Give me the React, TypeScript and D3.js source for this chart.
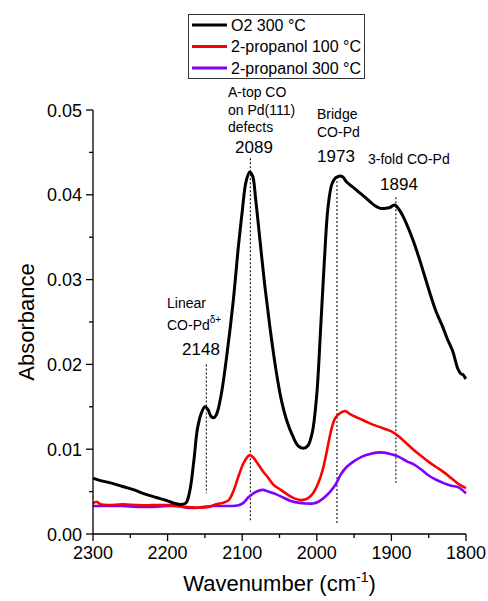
import React from "react";
import * as d3 from "d3";

const W = 488;
const H = 601;

const o2Wn = [2300,2290,2275,2260,2245,2230,2215,2200,2190,2180,2175,2170,2165,2160,2155,2150,2146,2142,2138,2134,2128,2120,2112,2105,2100,2095,2090,2086,2082,2076,2070,2063,2055,2048,2040,2032,2025,2018,2012,2006,2000,1995,1990,1985,1980,1975,1970,1965,1960,1953,1946,1938,1930,1922,1915,1908,1902,1896,1890,1884,1877,1870,1862,1855,1848,1840,1832,1825,1818,1811,1807,1804,1801,1800];
const o2Abs = [0.0066,0.0063,0.0060,0.0056,0.0052,0.0047,0.0043,0.0039,0.0036,0.0035,0.0037,0.0052,0.0085,0.0124,0.0142,0.0150,0.0147,0.0139,0.0137,0.0142,0.0165,0.0215,0.0275,0.0340,0.0380,0.0415,0.0427,0.0422,0.0395,0.0345,0.0295,0.0245,0.0195,0.0160,0.0133,0.0115,0.0104,0.0101,0.0104,0.0120,0.0165,0.0240,0.0320,0.0385,0.0412,0.0420,0.0422,0.0421,0.0415,0.0410,0.0405,0.0399,0.0393,0.0387,0.0384,0.0384,0.0385,0.0388,0.0383,0.0374,0.0360,0.0344,0.0323,0.0303,0.0283,0.0262,0.0246,0.0230,0.0216,0.0195,0.0189,0.0188,0.0184,0.0183];

const p100Wn = [2300,2295,2290,2280,2260,2240,2220,2200,2180,2160,2145,2135,2125,2118,2112,2105,2098,2090,2086,2080,2073,2065,2058,2050,2040,2030,2020,2012,2005,1998,1992,1986,1980,1975,1968,1962,1955,1945,1935,1925,1912,1900,1890,1880,1870,1860,1850,1840,1830,1820,1810,1800];
const p100Abs = [0.0036,0.0038,0.0035,0.0034,0.0035,0.0034,0.0034,0.0034,0.0032,0.0031,0.0032,0.0035,0.0037,0.0040,0.0050,0.0068,0.0084,0.0093,0.0091,0.0084,0.0075,0.0066,0.0058,0.0053,0.0047,0.0042,0.0040,0.0042,0.0048,0.0060,0.0076,0.0100,0.0125,0.0137,0.0143,0.0145,0.0141,0.0137,0.0133,0.0129,0.0125,0.0121,0.0115,0.0107,0.0099,0.0092,0.0085,0.0079,0.0073,0.0066,0.0059,0.0054];

const p300Wn = [2300,2280,2260,2240,2220,2200,2185,2175,2160,2140,2120,2105,2098,2092,2085,2078,2072,2065,2055,2045,2035,2025,2015,2005,1998,1990,1982,1975,1968,1960,1950,1940,1930,1920,1910,1900,1890,1880,1870,1860,1850,1840,1830,1820,1810,1805,1800];
const p300Abs = [0.0033,0.0033,0.0033,0.0032,0.0032,0.0033,0.0033,0.0031,0.0031,0.0033,0.0033,0.0034,0.0037,0.0043,0.0048,0.0051,0.0052,0.0050,0.0047,0.0043,0.0039,0.0037,0.0036,0.0036,0.0038,0.0043,0.0050,0.0058,0.0070,0.0079,0.0086,0.0091,0.0094,0.0096,0.0096,0.0094,0.0091,0.0086,0.0082,0.0076,0.0069,0.0064,0.0060,0.0057,0.0055,0.0052,0.0048];

const seriesNames = ["O2 300 °C", "2-propanol 100 °C", "2-propanol 300 °C"];
const seriesColors = ["#000000", "#ff0000", "#7f00ff"];

const xTicks = [2300, 2200, 2100, 2000, 1900, 1800];
const xMinorTicks = [2250, 2150, 2050, 1950, 1850];
const yTicks = [0.0, 0.01, 0.02, 0.03, 0.04, 0.05];
const yMinorTicks = [0.005, 0.015, 0.025, 0.035, 0.045];

// peak markers: wavenumber, top absorbance, bottom absorbance
const peakWn = [2148, 2089, 1973, 1894];
const peakTop = [0.0200, 0.0443, 0.0421, 0.0397];
const peakBottom = [0.0048, 0.0014, 0.0013, 0.0060];

const FONT = "Arial, 'Liberation Sans', sans-serif";

export default function App() {
  const x = d3.scaleLinear().domain([2300, 1800]).range([93, 466]);
  const y = d3.scaleLinear().domain([0, 0.05]).range([534, 110]);

  const line = d3
    .line<[number, number]>()
    .x((d) => x(d[0]))
    .y((d) => y(d[1]))
    .curve(d3.curveCatmullRom.alpha(0.5));

  const series = [
    { wn: o2Wn, abs: o2Abs, w: 3 },
    { wn: p100Wn, abs: p100Abs, w: 2.6 },
    { wn: p300Wn, abs: p300Abs, w: 2.6 },
  ];

  const x0 = x(2300);
  const y0 = y(0);

  return (
    <svg
      width={W}
      height={H}
      style={{ position: "absolute", left: 0, top: 0, background: "#fff" }}
      fontFamily={FONT}
    >
      <rect x={0} y={0} width={W} height={H} fill="#fff" />

      {/* peak dotted lines */}
      {peakWn.map((p, i) => (
        <line
          key={"pk" + i}
          x1={x(p)}
          x2={x(p)}
          y1={y(peakTop[i])}
          y2={y(peakBottom[i])}
          stroke="#222"
          strokeWidth={1.2}
          strokeDasharray="2,2"
        />
      ))}

      {/* series (draw purple, red, then black on top) */}
      {[2, 1, 0].map((i) => {
        const s = series[i];
        const pts: [number, number][] = s.wn.map((w, k) => [w, s.abs[k]]);
        return (
          <path
            key={"s" + i}
            d={line(pts) || ""}
            fill="none"
            stroke={seriesColors[i]}
            strokeWidth={s.w}
            strokeLinejoin="round"
          />
        );
      })}

      {/* axes */}
      <line x1={x0} x2={x0} y1={y(0.05)} y2={y0} stroke="#000" strokeWidth={1.3} />
      <line x1={x0} x2={x(1800)} y1={y0} y2={y0} stroke="#000" strokeWidth={1.3} />
      {xTicks.map((t) => (
        <g key={"xt" + t}>
          <line x1={x(t)} x2={x(t)} y1={y0} y2={y0 + 7} stroke="#000" strokeWidth={1.3} />
          <text x={x(t)} y={y0 + 25} textAnchor="middle" fontSize={18}>
            {t}
          </text>
        </g>
      ))}
      {xMinorTicks.map((t) => (
        <line key={"xm" + t} x1={x(t)} x2={x(t)} y1={y0} y2={y0 + 4} stroke="#000" strokeWidth={1.3} />
      ))}
      {yTicks.map((t) => (
        <g key={"yt" + t}>
          <line x1={x0 - 7} x2={x0} y1={y(t)} y2={y(t)} stroke="#000" strokeWidth={1.3} />
          <text x={x0 - 11} y={y(t) + 6.5} textAnchor="end" fontSize={18}>
            {t.toFixed(2)}
          </text>
        </g>
      ))}
      {yMinorTicks.map((t) => (
        <line key={"ym" + t} x1={x0 - 4} x2={x0} y1={y(t)} y2={y(t)} stroke="#000" strokeWidth={1.3} />
      ))}

      {/* axis titles */}
      <text
        transform={`translate(34,${(y(0) + y(0.05)) / 2}) rotate(-90)`}
        textAnchor="middle"
        fontSize={22}
      >
        Absorbance
      </text>
      <text x={(x0 + x(1800)) / 2} y={591} textAnchor="middle" fontSize={22}>
        Wavenumber (cm
        <tspan dy={-9} fontSize={14}>-1</tspan>
        <tspan dy={9}>)</tspan>
      </text>

      {/* annotations */}
      <g fontSize={14}>
        <text x={167} y={308}>Linear</text>
        <text x={167} y={330}>
          CO-Pd
          <tspan dy={-7} fontSize={10}>δ+</tspan>
        </text>
        <text x={228} y={97}>A-top CO</text>
        <text x={228} y={115}>on Pd(111)</text>
        <text x={228} y={132}>defects</text>
        <text x={317} y={119}>Bridge</text>
        <text x={317} y={137}>CO-Pd</text>
        <text x={368} y={164}>3-fold CO-Pd</text>
      </g>
      <g fontSize={17} textAnchor="middle">
        <text x={201} y={355}>2148</text>
        <text x={254} y={153}>2089</text>
        <text x={336} y={162}>1973</text>
        <text x={399} y={190}>1894</text>
      </g>

      {/* legend */}
      <rect x={188.5} y={14.5} width={176} height={64} fill="#fff" stroke="#333" strokeWidth={1} />
      {seriesNames.map((n, i) => (
        <g key={"lg" + i}>
          <line
            x1={192}
            x2={227}
            y1={25 + i * 21.5}
            y2={25 + i * 21.5}
            stroke={seriesColors[i]}
            strokeWidth={3}
          />
          <text x={231} y={25 + i * 21.5 + 5.5} fontSize={16}>
            {n}
          </text>
        </g>
      ))}
    </svg>
  );
}
